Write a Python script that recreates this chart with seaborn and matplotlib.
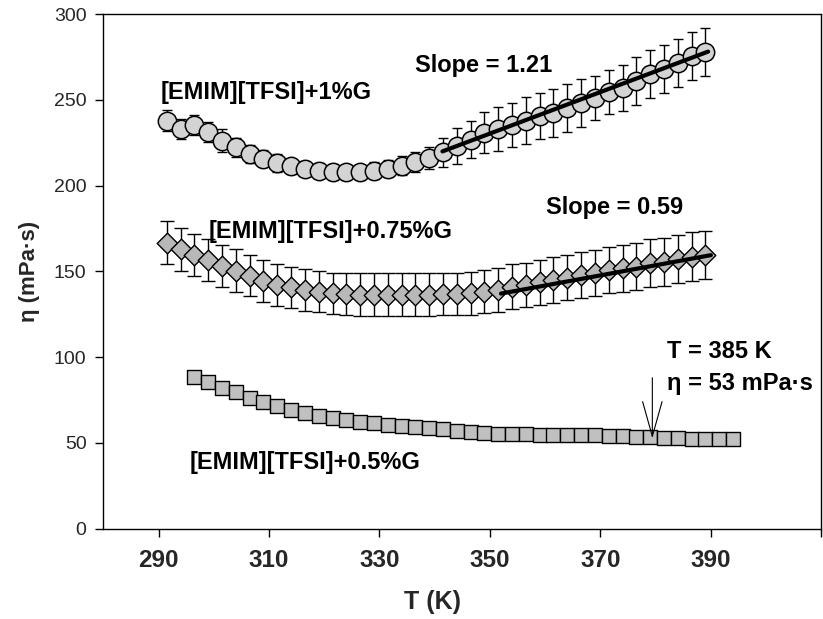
import matplotlib
matplotlib.use("Agg")
import matplotlib.pyplot as plt
import seaborn as sns

# temperatures (K)
t_main = [291.5, 294.0, 296.5, 299.0, 301.5, 304.0, 306.5, 309.0, 311.5, 314.0,
          316.5, 319.0, 321.5, 324.0, 326.5, 329.0, 331.5, 334.0, 336.5, 339.0,
          341.5, 344.0, 346.5, 349.0, 351.5, 354.0, 356.5, 359.0, 361.5, 364.0,
          366.5, 369.0, 371.5, 374.0, 376.5, 379.0, 381.5, 384.0, 386.5, 389.0]
t_low = [296.5, 299.0, 301.5, 304.0, 306.5, 309.0, 311.5, 314.0, 316.5, 319.0,
         321.5, 324.0, 326.5, 329.0, 331.5, 334.0, 336.5, 339.0, 341.5, 344.0,
         346.5, 349.0, 351.5, 354.0, 356.5, 359.0, 361.5, 364.0, 366.5, 369.0,
         371.5, 374.0, 376.5, 379.0, 381.5, 384.0, 386.5, 389.0, 391.5, 394.0]

# [EMIM][TFSI]+1%G
eta_1 = [238.0, 233.1, 235.3, 231.2, 226.3, 222.4, 218.5, 215.8, 213.2, 211.3,
         209.9, 208.8, 208.0, 207.8, 207.8, 208.8, 209.9, 211.7, 213.8, 216.0,
         219.5, 223.0, 226.9, 230.8, 233.1, 235.5, 238.0, 240.5, 242.5, 245.4,
         248.3, 251.1, 254.6, 257.1, 261.0, 264.9, 268.2, 271.7, 275.6, 278.2]
err_1 = [6.0, 6.0, 6.0, 6.0, 6.5, 5.5, 5.0, 5.0, 5.0, 4.5,
         4.5, 4.5, 4.5, 4.5, 4.5, 5.0, 5.0, 5.5, 6.0, 6.5,
         8.5, 10.5, 11.0, 12.0, 13.0, 13.0, 13.5, 13.5, 14.0, 14.0,
         14.0, 13.0, 13.0, 13.5, 14.0, 14.0, 14.0, 14.0, 14.0, 14.0]

# [EMIM][TFSI]+0.75%G
eta_075 = [166.8, 163.0, 159.6, 156.7, 153.2, 150.3, 147.4, 144.4, 142.1, 140.7,
           139.2, 138.2, 137.2, 136.8, 136.3, 136.3, 136.3, 136.3, 136.3, 136.3,
           136.8, 136.8, 137.3, 138.2, 139.2, 141.1, 142.1, 143.7, 145.0, 146.4,
           148.0, 148.9, 150.9, 151.9, 152.8, 154.8, 155.7, 157.1, 158.7, 159.6]
err_075 = [12.5, 12.5, 12.5, 12.5, 12.5, 12.5, 12.0, 12.0, 12.0, 12.0,
           12.0, 12.0, 12.0, 12.0, 12.5, 12.5, 12.5, 12.5, 12.5, 12.5,
           12.5, 12.5, 12.5, 12.5, 12.8, 13.0, 13.0, 13.0, 13.2, 13.2,
           13.5, 13.5, 13.5, 13.8, 13.8, 14.0, 14.0, 14.0, 14.2, 14.2]

# [EMIM][TFSI]+0.5%G
eta_05 = [88.5, 85.6, 82.3, 79.8, 76.4, 73.9, 71.3, 69.0, 67.4, 65.9,
          64.5, 63.3, 62.4, 61.4, 60.4, 59.8, 59.2, 58.7, 57.9, 56.8,
          56.2, 55.5, 55.4, 55.0, 55.0, 54.8, 54.6, 54.6, 54.4, 54.4,
          54.0, 53.8, 53.6, 53.2, 52.8, 52.6, 52.4, 52.4, 52.4, 52.0]

# linear fits (slope, value at the end point, T range)
fit_1 = {"slope": 1.21, "t": [341.4, 389.5], "end": 278.2}
fit_075 = {"slope": 0.59, "t": [352.0, 390.0], "end": 159.5}

x_ticks = [290, 310, 330, 350, 370, 390, 410]
x_labels = ["290", "310", "330", "350", "370", "390", ""]
y_ticks = [0, 50, 100, 150, 200, 250, 300]

sns.set_theme(style="ticks")
plt.rcParams["font.family"] = ["Liberation Sans", "DejaVu Sans"]

fig, ax = plt.subplots(figsize=(8.23, 6.19), dpi=100)
fig.subplots_adjust(left=0.1255, right=0.998, bottom=0.146, top=0.977)

ax.errorbar(t_main, eta_1, yerr=err_1, fmt="none", ecolor="black",
            elinewidth=1, capsize=3.6, capthick=1, zorder=2)
sns.scatterplot(x=t_main, y=eta_1, marker="o", s=175, color="#d3d3d3",
                edgecolor="black", linewidth=1.1, ax=ax, zorder=3)

ax.errorbar(t_main, eta_075, yerr=err_075, fmt="none", ecolor="black",
            elinewidth=1, capsize=5.2, capthick=1, zorder=2)
sns.scatterplot(x=t_main, y=eta_075, marker="D", s=110, color="#b8b8b8",
                edgecolor="black", linewidth=1.0, ax=ax, zorder=3)

sns.scatterplot(x=t_low, y=eta_05, marker="s", s=92, color="#c0c0c0",
                edgecolor="black", linewidth=1.0, ax=ax, zorder=3)

for fit in (fit_1, fit_075):
    t0, t1 = fit["t"]
    yy = [fit["end"] - fit["slope"] * (t1 - t0), fit["end"]]
    sns.lineplot(x=fit["t"], y=yy, color="black", linewidth=3, ax=ax, zorder=4)

txt = dict(fontsize=17, fontweight="bold", color="black", va="center", ha="left")
ax.text(290.4, 254.6, "[EMIM][TFSI]+1%G", **txt)
ax.text(336.5, 270.2, "Slope = 1.21", **txt)
ax.text(299.0, 173.3, "[EMIM][TFSI]+0.75%G", **txt)
ax.text(360.1, 187.0, "Slope = 0.59", **txt)
ax.text(295.6, 38.6, "[EMIM][TFSI]+0.5%G", **txt)
ax.text(382.1, 103.5, "T = 385 K", **txt)
ax.text(382.1, 84.5, "η = 53 mPa·s", **txt)
ax.annotate("", xy=(379.4, 52.6), xytext=(379.4, 88.0), fontsize=10,
            arrowprops=dict(arrowstyle="->,head_length=2.5,head_width=0.7",
                            color="black", lw=0.8, shrinkA=0, shrinkB=0),
            zorder=5)

ax.set_xlim(280, 410)
ax.set_ylim(0, 300)
ax.set_xticks(x_ticks)
ax.set_xticklabels(x_labels, fontsize=17.5, fontweight="bold")
ax.set_yticks(y_ticks)
ax.set_yticklabels([str(v) for v in y_ticks], fontsize=14)
ax.tick_params(axis="x", direction="out", length=6, width=1, pad=9, color="black")
ax.tick_params(axis="y", direction="out", length=6, width=1, pad=6, color="black")

for side in ["left", "right", "top", "bottom"]:
    ax.spines[side].set_visible(True)
    ax.spines[side].set_color("black")
    ax.spines[side].set_linewidth(1)

ax.set_xlabel("T (K)", fontsize=18, fontweight="bold")
ax.set_ylabel("η (mPa·s)", fontsize=16, fontweight="bold")
ax.xaxis.set_label_coords(0.459, -0.12)
ax.yaxis.set_label_coords(-0.088, 0.5)

plt.savefig("out.png", dpi=100)
plt.close()
